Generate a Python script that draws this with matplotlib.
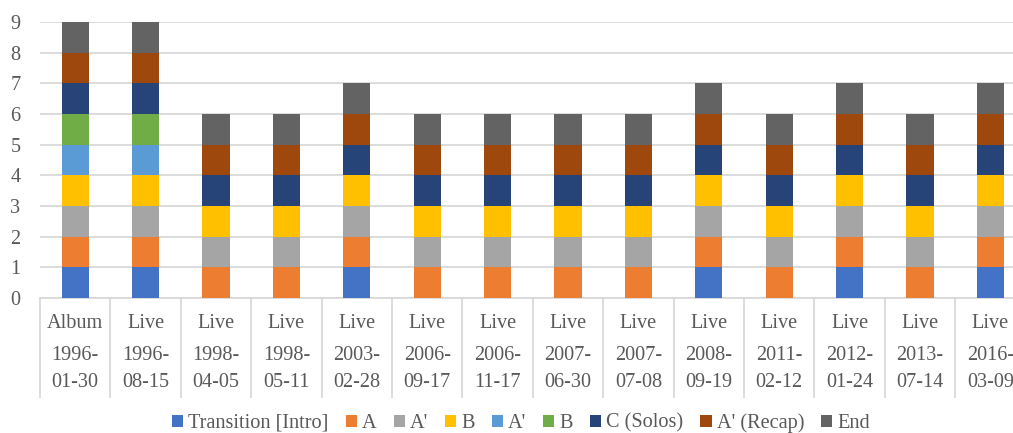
import matplotlib
matplotlib.use("Agg")
import matplotlib.pyplot as plt
from matplotlib.patches import Patch
import numpy as np

plt.rcParams['font.family'] = ['Liberation Serif', 'DejaVu Serif']

# Category axis: recording type and date
kinds = ["Album", "Live", "Live", "Live", "Live", "Live", "Live",
         "Live", "Live", "Live", "Live", "Live", "Live", "Live"]
dates = ["1996-01-30", "1996-08-15", "1998-04-05", "1998-05-11", "2003-02-28",
         "2006-09-17", "2006-11-17", "2007-06-30", "2007-07-08", "2008-09-19",
         "2011-02-12", "2012-01-24", "2013-07-14", "2016-03-09"]

# Section counts per performance
transition_intro = [1, 1, 0, 0, 1, 0, 0, 0, 0, 1, 0, 1, 0, 1]
sec_a            = [1, 1, 1, 1, 1, 1, 1, 1, 1, 1, 1, 1, 1, 1]
sec_a_prime      = [1, 1, 1, 1, 1, 1, 1, 1, 1, 1, 1, 1, 1, 1]
sec_b            = [1, 1, 1, 1, 1, 1, 1, 1, 1, 1, 1, 1, 1, 1]
sec_a_prime_2    = [1, 1, 0, 0, 0, 0, 0, 0, 0, 0, 0, 0, 0, 0]
sec_b_2          = [1, 1, 0, 0, 0, 0, 0, 0, 0, 0, 0, 0, 0, 0]
sec_c_solos      = [1, 1, 1, 1, 1, 1, 1, 1, 1, 1, 1, 1, 1, 1]
sec_recap        = [1, 1, 1, 1, 1, 1, 1, 1, 1, 1, 1, 1, 1, 1]
sec_end          = [1, 1, 1, 1, 1, 1, 1, 1, 1, 1, 1, 1, 1, 1]

series_names = ["Transition [Intro]", "A", "A'", "B", "A'", "B",
                "C (Solos)", "A' (Recap)", "End"]
series_values = [transition_intro, sec_a, sec_a_prime, sec_b, sec_a_prime_2,
                 sec_b_2, sec_c_solos, sec_recap, sec_end]
colors = ["#4472C4", "#ED7D31", "#A5A5A5", "#FFC000", "#5B9BD5",
          "#70AD47", "#264478", "#9E480E", "#636363"]

text_color = "#595959"
grid_color = "#D9D9D9"
fs = 14.6

fig = plt.figure(figsize=(10.13, 4.33), dpi=100)
ax = fig.add_axes([40 / 1013, 1 - 298 / 433, 985.6 / 1013, 276 / 433])

x = np.arange(len(dates))
bottom = np.zeros(len(dates))
for name, vals, col in zip(series_names, series_values, colors):
    v = np.array(vals, dtype=float)
    ax.bar(x, v, width=0.385, bottom=bottom, color=col, zorder=3)
    bottom += v

ax.set_xlim(-0.5, len(dates) - 0.5)
ax.set_ylim(0, 9)
ax.set_yticks(range(0, 10))
ax.yaxis.grid(True, color=grid_color, linewidth=1.3, zorder=0)
ax.tick_params(axis='y', length=0, labelsize=fs, labelcolor=text_color, pad=14)
ax.set_xticks([])
for s in ["top", "right", "left"]:
    ax.spines[s].set_visible(False)
ax.spines["bottom"].set_color(grid_color)
ax.spines["bottom"].set_linewidth(1.3)

# Multi-level category labels with separators
trans = ax.get_xaxis_transform()
for i in range(len(dates) + 1):
    ax.plot([i - 0.5, i - 0.5], [0, -0.359], transform=trans, color=grid_color,
            linewidth=1.3, clip_on=False, zorder=1)
for i, (k, d) in enumerate(zip(kinds, dates)):
    ax.text(i, -0.091, k, transform=trans, ha="center", va="center",
            fontsize=fs, color=text_color)
    y, m_d = d[:4], d[5:]
    ax.text(i, -0.21, y + "-", transform=trans, ha="center", va="center",
            fontsize=fs, color=text_color)
    ax.text(i, -0.305, m_d, transform=trans, ha="center", va="center",
            fontsize=fs, color=text_color)

handles = [Patch(facecolor=c, edgecolor="none", label=n)
           for n, c in zip(series_names, colors)]
fig.legend(handles=handles, loc="center", bbox_to_anchor=(521 / 1013, 1 - 423 / 433),
           ncol=9, frameon=False, fontsize=fs, labelcolor=text_color,
           handlelength=0.55, handleheight=0.55, handletextpad=0.25,
           columnspacing=0.84, borderaxespad=0)

fig.savefig("out.png", dpi=100)
